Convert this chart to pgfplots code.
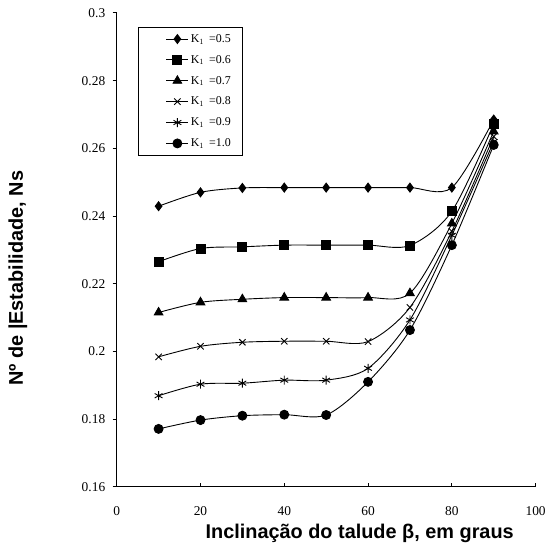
\documentclass[border=0pt]{standalone}
\usepackage{pgfplots}
\pgfplotsset{compat=1.18}
\usepackage{fontspec}
\setmainfont{Liberation Serif}
\newfontfamily\labfont{Liberation Sans}
\begin{document}
\begin{tikzpicture}[x=1bp,y=1bp]
\begin{axis}[
  scale only axis,
  width=420bp, height=475bp,
  xmin=0, xmax=100, ymin=0.16, ymax=0.3,
  axis lines=left,
  axis line style={line width=1.2bp, -},
  xtick={0,20,...,100},
  ytick={0.16,0.18,...,0.3001},
  /pgf/number format/assume math mode=true,
  /pgf/number format/fixed,
  /pgf/number format/precision=2,
  tick label style={font=\fontsize{13.5}{15}\selectfont},
  xtick align=inside, ytick align=outside,
  major tick length=4bp,
  tick style={line width=1bp, black},
  xticklabel style={yshift=-16bp},
  yticklabel style={xshift=-4bp},
  clip=false,
  xlabel={Inclinação do talude β, em graus},
  ylabel={Nº de |Estabilidade, Ns},
  xlabel style={font=\labfont\bfseries\fontsize{20}{23}\selectfont, at={(axis description cs:0.58,-0.099)}, anchor=center},
  ylabel style={font=\labfont\bfseries\fontsize{20}{23}\selectfont, at={(axis description cs:-0.236,0.44)}, anchor=center},
  legend style={at={(axis description cs:0.05,0.9705)}, anchor=north west, draw=black, line width=0.8bp,
    font=\fontsize{12}{13}\selectfont, row sep=7.5bp, inner xsep=6bp, inner ysep=5bp, cells={anchor=west}},
  legend cell align=left,
  legend image code/.code={\path (0bp,0bp); \draw[#1, mark repeat=2, mark phase=2] plot coordinates {(22bp,0bp)(33bp,0bp)(44bp,0bp)};},
  every axis plot/.append style={black, line width=0.9bp, smooth, tension=0.5, mark options={solid, fill=black}},
]
\addplot[mark=diamond*, mark size=4.5bp] coordinates {(10,0.2429)(20,0.2470)(30,0.2483)(40,0.2484)(50,0.2484)(60,0.2484)(70,0.2484)(80,0.2484)(90,0.2685)};
\addlegendentry{K$_1$\, =0.5\,\,}
\addplot[mark=square*, mark size=4.5bp] coordinates {(10,0.2265)(20,0.2304)(30,0.2309)(40,0.2314)(50,0.2314)(60,0.2314)(70,0.2313)(80,0.2414)(90,0.2672)};
\addlegendentry{K$_1$\, =0.6\,\,}
\addplot[mark=triangle*, mark size=5bp] coordinates {(10,0.2115)(20,0.2145)(30,0.2154)(40,0.2159)(50,0.2159)(60,0.2159)(70,0.2172)(80,0.2378)(90,0.2650)};
\addlegendentry{K$_1$\, =0.7\,\,}
\addplot[mark=x, mark size=4.5bp] coordinates {(10,0.1984)(20,0.2015)(30,0.2027)(40,0.2030)(50,0.2030)(60,0.2029)(70,0.2130)(80,0.2355)(90,0.2635)};
\addlegendentry{K$_1$\, =0.8\,\,}
\addplot[mark=asterisk, mark size=4.5bp] coordinates {(10,0.1869)(20,0.1903)(30,0.1906)(40,0.1915)(50,0.1915)(60,0.1950)(70,0.2093)(80,0.2343)(90,0.2620)};
\addlegendentry{K$_1$\, =0.9\,\,}
\addplot[mark=*, mark size=4.5bp] coordinates {(10,0.1771)(20,0.1797)(30,0.1810)(40,0.1813)(50,0.1812)(60,0.1910)(70,0.2063)(80,0.2314)(90,0.2610)};
\addlegendentry{K$_1$\, =1.0\,\,}
\path (rel axis cs:-0.2786,-0.1263) rectangle (rel axis cs:1.0286,1.0274);
\end{axis}
\end{tikzpicture}
\end{document}
